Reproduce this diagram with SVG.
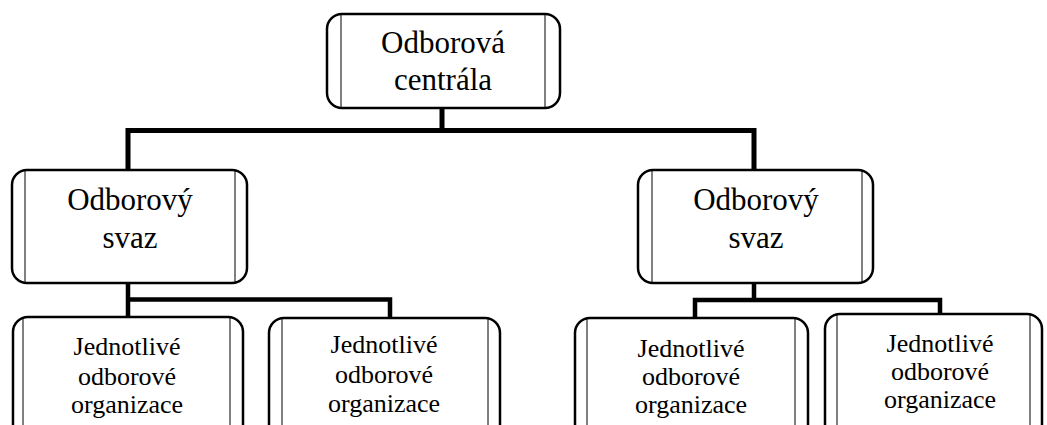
<svg xmlns="http://www.w3.org/2000/svg" width="1047" height="425" viewBox="0 0 1047 425">
<style>
.box{fill:#fff;stroke:#000;stroke-width:2.5}
.inner{stroke:#000;stroke-width:1}
.conn{fill:none;stroke:#000;stroke-linejoin:miter;stroke-linecap:butt}
text{font-family:'Liberation Serif','DejaVu Serif',serif;text-anchor:middle;fill:#000}
.big{font-size:31px}
.small{font-size:26px}
</style>
<rect width="1047" height="425" fill="#fff"/>
<g id="connectors">
<path class="conn" stroke-width="5" d="M128,170 V130.5 H754 V170"/>
<path class="conn" stroke-width="5" d="M442,108 V130.5"/>
<path class="conn" stroke-width="4.5" d="M128,283 V299.5 M128,317 V299.5 H390 V318"/>
<path class="conn" stroke-width="4.5" d="M754,283 V300 M695,318 V300 H940 V314"/>
</g>
<g id="n-centrala">
<rect class="box" x="327" y="14" width="233" height="94" rx="15"/>
<line class="inner" x1="341" y1="14" x2="341" y2="108"/>
<line class="inner" x1="545" y1="14" x2="545" y2="108"/>
<text class="big" x="443" y="53" font-family="Liberation Serif">Odborová</text>
<text class="big" x="443" y="90" font-family="Liberation Serif">centrála</text>
</g>
<g id="n-svaz-left">
<rect class="box" x="12" y="170" width="235" height="113" rx="15"/>
<line class="inner" x1="25" y1="170" x2="25" y2="283"/>
<line class="inner" x1="235" y1="170" x2="235" y2="283"/>
<text class="big" x="130" y="210">Odborový</text>
<text class="big" x="130" y="248">svaz</text>
</g>
<g id="n-svaz-right">
<rect class="box" x="638" y="170" width="235" height="113" rx="15"/>
<line class="inner" x1="652" y1="170" x2="652" y2="283"/>
<line class="inner" x1="862" y1="170" x2="862" y2="283"/>
<text class="big" x="756" y="210">Odborový</text>
<text class="big" x="756" y="248">svaz</text>
</g>
<g id="n-org-1">
<rect class="box" x="13" y="317" width="230" height="130" rx="15"/>
<line class="inner" x1="23" y1="317" x2="23" y2="430"/>
<line class="inner" x1="230" y1="317" x2="230" y2="430"/>
<text class="small" x="127" y="355">Jednotlivé</text>
<text class="small" x="127" y="385">odborové</text>
<text class="small" x="127" y="413">organizace</text>
</g>
<g id="n-org-2">
<rect class="box" x="269" y="318" width="231" height="130" rx="15"/>
<line class="inner" x1="282" y1="318" x2="282" y2="430"/>
<line class="inner" x1="488" y1="318" x2="488" y2="430"/>
<text class="small" x="384" y="353">Jednotlivé</text>
<text class="small" x="384" y="383">odborové</text>
<text class="small" x="384" y="412">organizace</text>
</g>
<g id="n-org-3">
<rect class="box" x="575" y="318" width="233" height="130" rx="15"/>
<line class="inner" x1="587" y1="318" x2="587" y2="430"/>
<line class="inner" x1="795" y1="318" x2="795" y2="430"/>
<text class="small" x="691" y="357">Jednotlivé</text>
<text class="small" x="691" y="385">odborové</text>
<text class="small" x="691" y="413">organizace</text>
</g>
<g id="n-org-4">
<rect class="box" x="825" y="314" width="217" height="130" rx="15"/>
<line class="inner" x1="837" y1="314" x2="837" y2="430"/>
<line class="inner" x1="1030" y1="314" x2="1030" y2="430"/>
<text class="small" x="940" y="352">Jednotlivé</text>
<text class="small" x="940" y="380">odborové</text>
<text class="small" x="940" y="408">organizace</text>
</g>
</svg>
